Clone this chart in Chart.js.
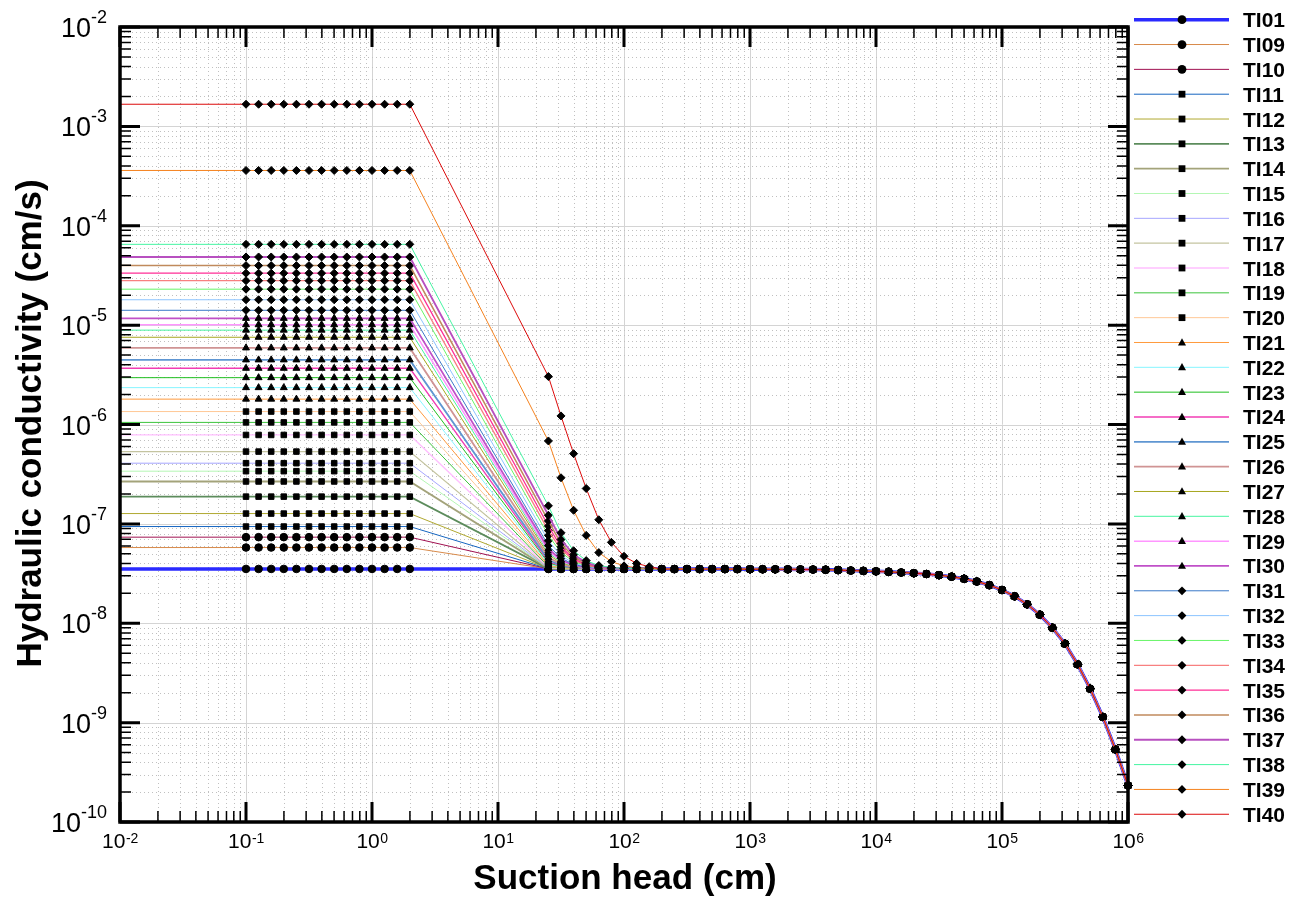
<!DOCTYPE html>
<html>
<head>
<meta charset="utf-8">
<title>Hydraulic conductivity vs suction head</title>
<script src="https://cdn.jsdelivr.net/npm/chart.js@4.4.0/dist/chart.umd.min.js"></script>
<style>
  html, body { margin: 0; padding: 0; background: #fff; }
  #wrap { width: 1303px; height: 898px; }
</style>
</head>
<body>
<div id="wrap"><canvas id="kChart" width="1303" height="898"></canvas></div>
<script>
// series, in legend order
const seriesNames = ['TI01','TI09','TI10','TI11','TI12','TI13','TI14','TI15','TI16','TI17','TI18',
  'TI19','TI20','TI21','TI22','TI23','TI24','TI25','TI26','TI27','TI28','TI29','TI30',
  'TI31','TI32','TI33','TI34','TI35','TI36','TI37','TI38','TI39','TI40'];

// suction head (cm): saturated plateau, wet branch, dry branch
const suctionSat = [0.01, 0.1, 0.1259, 0.1585, 0.1995, 0.2512, 0.3162, 0.3981, 0.5012, 0.631,
  0.7943, 1, 1.259, 1.585, 1.995];
const suctionWet = [25.12, 31.62, 39.81, 50.12, 63.1, 79.43, 100, 125.9, 158.5];
const suctionDry = [199.5, 251.2, 316.2, 398.1, 501.2, 631, 794.3,
  1000, 1259, 1585, 1995, 2512, 3162, 3981, 5012, 6310, 7943,
  10000, 12590, 15850, 19950, 25120, 31620, 39810, 50120, 63100, 79430,
  100000, 125900, 158500, 199500, 251200, 316200, 398100, 501200, 631000, 794300,
  1000000];

// saturated conductivity (cm/s) per series
const kSat = [3.52e-8, 5.78e-8, 7.35e-8, 9.4e-8, 1.27e-7, 1.88e-7, 2.67e-7, 3.39e-7, 4.08e-7,
  5.34e-7, 7.85e-7, 1.05e-6, 1.35e-6, 1.8e-6, 2.35e-6, 2.96e-6, 3.68e-6, 4.47e-6, 5.9e-6,
  7.55e-6, 8.9e-6, 1.01e-5, 1.17e-5, 1.41e-5, 1.8e-5, 2.3e-5, 2.8e-5, 3.33e-5, 3.97e-5,
  4.85e-5, 6.5e-5, 3.6e-4, 1.67e-3];

// conductivity per series on the wet branch (one array per suction value)
const kAt25 = [3.52e-8, 3.53e-8, 3.53e-8, 3.54e-8, 3.54e-8, 3.55e-8, 3.57e-8, 3.58e-8, 3.59e-8,
  3.62e-8, 3.66e-8, 3.71e-8, 3.76e-8, 3.84e-8, 3.94e-8, 4.05e-8, 4.18e-8, 4.33e-8, 4.58e-8,
  4.88e-8, 5.12e-8, 5.34e-8, 5.63e-8, 6.06e-8, 6.76e-8, 7.66e-8, 8.56e-8, 9.52e-8, 1.07e-7,
  1.22e-7, 1.52e-7, 6.83e-7, 3.04e-6];
const kAt32 = [3.52e-8, 3.52e-8, 3.53e-8, 3.53e-8, 3.53e-8, 3.53e-8, 3.54e-8, 3.54e-8, 3.55e-8,
  3.56e-8, 3.58e-8, 3.6e-8, 3.62e-8, 3.65e-8, 3.69e-8, 3.73e-8, 3.78e-8, 3.84e-8, 3.94e-8,
  4.06e-8, 4.15e-8, 4.24e-8, 4.35e-8, 4.52e-8, 4.8e-8, 5.15e-8, 5.51e-8, 5.88e-8, 6.34e-8,
  6.96e-8, 8.14e-8, 2.91e-7, 1.22e-6];
const kAt40 = [3.52e-8, 3.52e-8, 3.52e-8, 3.52e-8, 3.52e-8, 3.53e-8, 3.53e-8, 3.53e-8, 3.53e-8,
  3.54e-8, 3.54e-8, 3.55e-8, 3.56e-8, 3.57e-8, 3.59e-8, 3.6e-8, 3.63e-8, 3.65e-8, 3.69e-8,
  3.73e-8, 3.77e-8, 3.81e-8, 3.85e-8, 3.92e-8, 4.03e-8, 4.17e-8, 4.32e-8, 4.47e-8, 4.65e-8,
  4.9e-8, 5.37e-8, 1.37e-7, 5.09e-7];
const kAt50 = [3.52e-8, 3.52e-8, 3.52e-8, 3.52e-8, 3.52e-8, 3.52e-8, 3.52e-8, 3.52e-8, 3.52e-8,
  3.52e-8, 3.53e-8, 3.53e-8, 3.53e-8, 3.54e-8, 3.55e-8, 3.55e-8, 3.56e-8, 3.57e-8, 3.59e-8,
  3.61e-8, 3.62e-8, 3.64e-8, 3.66e-8, 3.68e-8, 3.73e-8, 3.79e-8, 3.84e-8, 3.9e-8, 3.98e-8,
  4.08e-8, 4.27e-8, 7.66e-8, 2.27e-7];
const kAt63 = [3.52e-8, 3.52e-8, 3.52e-8, 3.52e-8, 3.52e-8, 3.52e-8, 3.52e-8, 3.52e-8, 3.52e-8,
  3.52e-8, 3.52e-8, 3.52e-8, 3.52e-8, 3.52e-8, 3.52e-8, 3.53e-8, 3.53e-8, 3.53e-8, 3.55e-8,
  3.55e-8, 3.56e-8, 3.56e-8, 3.57e-8, 3.58e-8, 3.6e-8, 3.62e-8, 3.65e-8, 3.67e-8, 3.7e-8,
  3.74e-8, 3.81e-8, 5.14e-8, 1.1e-7];
const kAt79 = [3.52e-8, 3.52e-8, 3.52e-8, 3.52e-8, 3.52e-8, 3.52e-8, 3.52e-8, 3.52e-8, 3.52e-8,
  3.52e-8, 3.52e-8, 3.52e-8, 3.52e-8, 3.52e-8, 3.52e-8, 3.52e-8, 3.52e-8, 3.52e-8, 3.52e-8,
  3.53e-8, 3.53e-8, 3.53e-8, 3.53e-8, 3.54e-8, 3.55e-8, 3.56e-8, 3.57e-8, 3.58e-8, 3.59e-8,
  3.61e-8, 3.64e-8, 4.17e-8, 6.52e-8];
const kAt100 = [3.52e-8, 3.52e-8, 3.52e-8, 3.52e-8, 3.52e-8, 3.52e-8, 3.52e-8, 3.52e-8, 3.52e-8,
  3.52e-8, 3.52e-8, 3.52e-8, 3.52e-8, 3.52e-8, 3.52e-8, 3.52e-8, 3.52e-8, 3.52e-8, 3.52e-8,
  3.52e-8, 3.52e-8, 3.52e-8, 3.52e-8, 3.52e-8, 3.52e-8, 3.52e-8, 3.54e-8, 3.54e-8, 3.54e-8,
  3.55e-8, 3.57e-8, 3.78e-8, 4.72e-8];
const kAt126 = [3.52e-8, 3.52e-8, 3.52e-8, 3.52e-8, 3.52e-8, 3.52e-8, 3.52e-8, 3.52e-8, 3.52e-8,
  3.52e-8, 3.52e-8, 3.52e-8, 3.52e-8, 3.52e-8, 3.52e-8, 3.52e-8, 3.52e-8, 3.52e-8, 3.52e-8,
  3.52e-8, 3.52e-8, 3.52e-8, 3.52e-8, 3.52e-8, 3.52e-8, 3.52e-8, 3.52e-8, 3.52e-8, 3.52e-8,
  3.52e-8, 3.54e-8, 3.62e-8, 4.0e-8];
const kAt158 = [3.52e-8, 3.52e-8, 3.52e-8, 3.52e-8, 3.52e-8, 3.52e-8, 3.52e-8, 3.52e-8, 3.52e-8,
  3.52e-8, 3.52e-8, 3.52e-8, 3.52e-8, 3.52e-8, 3.52e-8, 3.52e-8, 3.52e-8, 3.52e-8, 3.52e-8,
  3.52e-8, 3.52e-8, 3.52e-8, 3.52e-8, 3.52e-8, 3.52e-8, 3.52e-8, 3.52e-8, 3.52e-8, 3.52e-8,
  3.52e-8, 3.52e-8, 3.56e-8, 3.71e-8];

// dry branch, shared by all series
const kDry = [3.51e-8, 3.51e-8, 3.51e-8, 3.51e-8, 3.51e-8, 3.51e-8, 3.51e-8,
  3.5e-8, 3.5e-8, 3.49e-8, 3.49e-8, 3.48e-8, 3.47e-8, 3.45e-8, 3.43e-8, 3.39e-8, 3.36e-8,
  3.33e-8, 3.29e-8, 3.24e-8, 3.19e-8, 3.13e-8, 3.05e-8, 2.94e-8, 2.8e-8, 2.63e-8, 2.42e-8,
  2.16e-8, 1.87e-8, 1.55e-8, 1.22e-8, 9.0e-9, 6.22e-9, 3.86e-9, 2.19e-9, 1.14e-9, 5.37e-10,
  2.33e-10];

// axis decades (tick labels are 10^n)
const xDecades = [-2, -1, 0, 1, 2, 3, 4, 5, 6];
const yDecades = [-10, -9, -8, -7, -6, -5, -4, -3, -2];

// styling
const lineColors = ['#2a2aff','#d88a4a','#a01050','#1565c0','#b0a830','#5c8c5c','#a3a37a','#b4f7b4',
  '#a6a6ff','#c4c4a0','#ffbfff','#3cc43c','#ffc896','#ff9a3c','#86f5ff','#1fbf1f','#f23cb4',
  '#5f96d2','#d09494','#a6a61e','#46f5a0','#ff96ff','#c050c8','#3a78c8','#8cc4ff','#66f566',
  '#f88080','#ff2e96','#c08a5c','#b850c0','#44f5a2','#f5821e','#dc0a0a'];
const lineWidths = [3.5,1,1,1,1,1.8,1.8,1,1,1.3,1.3,1,1,1,1,1,1.3,1.8,1.8,1,1,1.5,1.8,
  1,1,1,1.3,1.3,1.5,1.8,1,1,1];
const markers = ['circle','circle','circle','rect','rect','rect','rect','rect','rect','rect','rect',
  'rect','rect','triangle','triangle','triangle','triangle','triangle','triangle','triangle',
  'triangle','triangle','triangle','rectRot','rectRot','rectRot','rectRot','rectRot','rectRot',
  'rectRot','rectRot','rectRot','rectRot'];
const markerRadius = { circle: 3.8, rect: 3.9, triangle: 4.0, rectRot: 4.0 };

const FONT = 'Arial, "Liberation Sans", Helvetica, sans-serif';
const wetColumns = [kAt25, kAt32, kAt40, kAt50, kAt63, kAt79, kAt100, kAt126, kAt158];

const datasets = seriesNames.map((name, i) => {
  const pts = [];
  suctionSat.forEach(h => pts.push({ x: h, y: kSat[i] }));
  suctionWet.forEach((h, j) => pts.push({ x: h, y: wetColumns[j][i] }));
  suctionDry.forEach((h, j) => pts.push({ x: h, y: kDry[j] }));
  const r = markerRadius[markers[i]];
  return {
    label: name,
    data: pts,
    borderColor: lineColors[i],
    borderWidth: lineWidths[i],
    pointStyle: markers[i],
    pointRadius: ctx => (ctx.dataIndex === 0 ? 0 : r),
    pointBackgroundColor: '#000',
    pointBorderColor: '#000',
    pointBorderWidth: 1,
    tension: 0,
    clip: 8,
    order: seriesNames.length - i
  };
});

function drawMarker(ctx, style, x, y) {
  ctx.beginPath();
  if (style === 'circle') {
    ctx.arc(x, y, 4.4, 0, Math.PI * 2);
  } else if (style === 'rect') {
    ctx.rect(x - 3.4, y - 3.4, 6.8, 6.8);
  } else if (style === 'triangle') {
    ctx.moveTo(x, y - 4.3);
    ctx.lineTo(x + 4, y + 2.9);
    ctx.lineTo(x - 4, y + 2.9);
    ctx.closePath();
  } else {
    ctx.moveTo(x, y - 4.4);
    ctx.lineTo(x + 4.4, y);
    ctx.lineTo(x, y + 4.4);
    ctx.lineTo(x - 4.4, y);
    ctx.closePath();
  }
  ctx.fill();
}

// major solid + minor dotted grid behind the curves
const gridPlugin = {
  id: 'logGrid',
  beforeDatasetsDraw(chart) {
    const { ctx, chartArea: a, scales } = chart;
    ctx.save();
    ctx.lineWidth = 1;
    const minors = [2, 3, 4, 5, 6, 7, 8, 9];
    xDecades.forEach((d, idx) => {
      const px = Math.round(scales.x.getPixelForValue(Math.pow(10, d))) + 0.5;
      ctx.setLineDash([]);
      ctx.strokeStyle = '#d4d4d4';
      ctx.beginPath(); ctx.moveTo(px, a.top); ctx.lineTo(px, a.bottom); ctx.stroke();
      if (idx < xDecades.length - 1) {
        ctx.setLineDash([1, 3]);
        ctx.strokeStyle = '#c0c0c0';
        minors.forEach(m => {
          const mx = Math.round(scales.x.getPixelForValue(m * Math.pow(10, d))) + 0.5;
          ctx.beginPath(); ctx.moveTo(mx, a.top); ctx.lineTo(mx, a.bottom); ctx.stroke();
        });
      }
    });
    yDecades.forEach((d, idx) => {
      const py = Math.round(scales.y.getPixelForValue(Math.pow(10, d))) + 0.5;
      ctx.setLineDash([]);
      ctx.strokeStyle = '#d4d4d4';
      ctx.beginPath(); ctx.moveTo(a.left, py); ctx.lineTo(a.right, py); ctx.stroke();
      if (idx < yDecades.length - 1) {
        ctx.setLineDash([1, 3]);
        ctx.strokeStyle = '#c0c0c0';
        minors.forEach(m => {
          const my = Math.round(scales.y.getPixelForValue(m * Math.pow(10, d))) + 0.5;
          ctx.beginPath(); ctx.moveTo(a.left, my); ctx.lineTo(a.right, my); ctx.stroke();
        });
      }
    });
    ctx.restore();
  }
};

// frame, inward ticks, tick labels, titles, legend
const decorPlugin = {
  id: 'decor',
  afterDraw(chart) {
    const { ctx, chartArea: a, scales } = chart;
    const minors = [2, 3, 4, 5, 6, 7, 8, 9];
    ctx.save();

    // ticks
    ctx.strokeStyle = '#000';
    xDecades.forEach((d, idx) => {
      const px = scales.x.getPixelForValue(Math.pow(10, d));
      ctx.lineWidth = 3;
      ctx.beginPath();
      ctx.moveTo(px, a.bottom); ctx.lineTo(px, a.bottom - 20);
      ctx.moveTo(px, a.top); ctx.lineTo(px, a.top + 20);
      ctx.stroke();
      if (idx < xDecades.length - 1) {
        ctx.lineWidth = 1.5;
        minors.forEach(m => {
          const mx = scales.x.getPixelForValue(m * Math.pow(10, d));
          ctx.beginPath();
          ctx.moveTo(mx, a.bottom); ctx.lineTo(mx, a.bottom - 11);
          ctx.moveTo(mx, a.top); ctx.lineTo(mx, a.top + 11);
          ctx.stroke();
        });
      }
    });
    yDecades.forEach((d, idx) => {
      const py = scales.y.getPixelForValue(Math.pow(10, d));
      ctx.lineWidth = 3;
      ctx.beginPath();
      ctx.moveTo(a.left, py); ctx.lineTo(a.left + 20, py);
      ctx.moveTo(a.right, py); ctx.lineTo(a.right - 20, py);
      ctx.stroke();
      if (idx < yDecades.length - 1) {
        ctx.lineWidth = 1.5;
        minors.forEach(m => {
          const my = scales.y.getPixelForValue(m * Math.pow(10, d));
          ctx.beginPath();
          ctx.moveTo(a.left, my); ctx.lineTo(a.left + 11, my);
          ctx.moveTo(a.right, my); ctx.lineTo(a.right - 11, my);
          ctx.stroke();
        });
      }
    });

    // frame
    ctx.lineWidth = 3.5;
    ctx.strokeRect(a.left, a.top, a.right - a.left, a.bottom - a.top);

    // tick labels 10^n
    ctx.fillStyle = '#000';
    ctx.textBaseline = 'alphabetic';
    ctx.textAlign = 'left';
    xDecades.forEach(d => {
      const px = scales.x.getPixelForValue(Math.pow(10, d));
      ctx.font = '21px ' + FONT;
      const wBase = ctx.measureText('10').width;
      ctx.font = '14px ' + FONT;
      const wExp = ctx.measureText(String(d)).width;
      const x0 = px - (wBase + wExp) / 2;
      ctx.font = '21px ' + FONT;
      ctx.fillText('10', x0, a.bottom + 26);
      ctx.font = '14px ' + FONT;
      ctx.fillText(String(d), x0 + wBase + 0.5, a.bottom + 21);
    });
    yDecades.forEach(d => {
      const py = scales.y.getPixelForValue(Math.pow(10, d));
      ctx.font = '18px ' + FONT;
      const wExp = ctx.measureText(String(d)).width;
      ctx.font = '27px ' + FONT;
      const wBase = ctx.measureText('10').width;
      const xr = a.left - 13;
      ctx.fillText('10', xr - wExp - wBase, py + 10);
      ctx.font = '18px ' + FONT;
      ctx.fillText(String(d), xr - wExp, py - 4);
    });

    // axis titles
    ctx.font = 'bold 35px ' + FONT;
    ctx.textAlign = 'center';
    ctx.fillText('Suction head (cm)', (a.left + a.right) / 2 + 1, 889);
    ctx.save();
    ctx.translate(41, (a.top + a.bottom) / 2 - 1);
    ctx.rotate(-Math.PI / 2);
    ctx.fillText('Hydraulic conductivity (cm/s)', 0, 0);
    ctx.restore();

    // legend
    ctx.textAlign = 'left';
    ctx.font = 'bold 21px ' + FONT;
    seriesNames.forEach((name, i) => {
      const y = 19.7 + i * 24.83;
      ctx.strokeStyle = lineColors[i];
      ctx.lineWidth = lineWidths[i];
      ctx.beginPath(); ctx.moveTo(1134, y); ctx.lineTo(1229, y); ctx.stroke();
      ctx.fillStyle = '#000';
      drawMarker(ctx, markers[i], 1182, y);
      ctx.fillText(name, 1243, y + 7.5);
    });
    ctx.restore();
  }
};

new Chart(document.getElementById('kChart'), {
  type: 'line',
  data: { datasets: datasets },
  options: {
    responsive: false,
    animation: false,
    devicePixelRatio: 1,
    layout: { padding: { left: 0, right: 175, top: 27, bottom: 0 } },
    plugins: { legend: { display: false }, tooltip: { enabled: false } },
    scales: {
      x: {
        type: 'logarithmic', min: 1e-2, max: 1e6,
        grid: { display: false }, border: { display: false }, ticks: { display: false },
        afterFit: s => { s.height = 76; }
      },
      y: {
        type: 'logarithmic', min: 1e-10, max: 1e-2,
        grid: { display: false }, border: { display: false }, ticks: { display: false },
        afterFit: s => { s.width = 120; }
      }
    }
  },
  plugins: [gridPlugin, decorPlugin]
});
</script>
</body>
</html>
